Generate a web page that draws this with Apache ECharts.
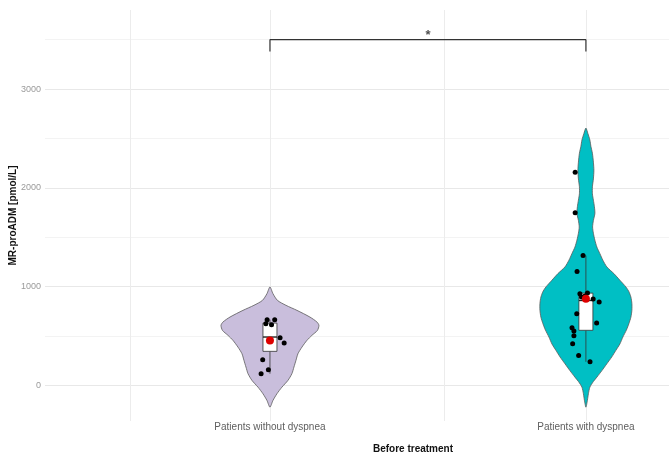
<!DOCTYPE html>
<html>
<head>
<meta charset="utf-8">
<title>MR-proADM before treatment</title>
<script src="https://cdn.jsdelivr.net/npm/echarts@6/dist/echarts.min.js"></script>
<style>
  html, body { margin: 0; padding: 0; background: #fff; }
  #chart { width: 669px; height: 461px; }
</style>
</head>
<body>
<div id="chart"></div>
<script>
// groups on the x axis
const groups = ['Patients without dyspnea', 'Patients with dyspnea'];
const groupX = [1, 2];
const violinColors = ['#c9bedc', '#00bfc4'];

// violin outline: level (pmol/L) and relative density
const levels1 = [-220, -152, -84, -17, 51, 120, 186, 253, 321, 388, 456, 507, 557, 608, 642, 692, 760, 811, 861, 929, 997];
const density1 = [0, 3, 7, 12, 18, 22, 24, 26, 28, 32, 37, 42, 47.5, 49, 47, 40, 27, 16, 7.5, 3, 0];
const levels2 = [-220, -150, -84, -17, 40, 84, 150, 220, 290, 355, 420, 490, 560, 625, 690, 760, 830, 895, 950, 997, 1065, 1132, 1199, 1267, 1334, 1400, 1470, 1540, 1604, 1670, 1740, 1810, 1875, 1940, 2010, 2090, 2179, 2260, 2350, 2420, 2483, 2550, 2605];
const density2 = [0, 1.5, 2.5, 4, 7.5, 11, 16, 21, 26, 30, 34, 37, 40.5, 43, 45, 46, 46, 45, 43, 40, 34, 28, 21, 17, 14, 11, 9, 7.5, 6.7, 7.5, 9, 8.5, 7.5, 6.5, 6.5, 7.5, 8, 7.5, 6.5, 5, 4, 2, 0];

// boxplot: lower whisker, Q1, median, Q3, upper whisker
const box1 = [119, 345, 490, 631, 666];
const box2 = [239, 558, 860, 934, 1314];

// individual patients and their horizontal jitter
const values1 = [666, 666, 625, 615, 483, 429, 260, 159, 119];
const jitter1 = [-0.009, 0.015, -0.013, 0.005, 0.032, 0.045, -0.023, -0.005, -0.028];
const values2 = [2159, 1747, 1314, 1152, 929, 936, 895, 875, 844, 726, 631, 584, 550, 503, 422, 304, 239, 905];
const jitter2 = [-0.034, -0.034, -0.009, -0.028, -0.019, 0.005, -0.014, 0.023, 0.042, -0.029, 0.034, -0.044, -0.038, -0.038, -0.042, -0.023, 0.013, -0.003];

// group means (red dots)
const means = [456, 878];

// significance bracket
const bracketX = [1, 1, 2, 2];
const bracketY = [3380, 3500, 3500, 3380];
const sigLabel = '*';

// axis ticks and grid
const yTicks = [0, 1000, 2000, 3000];
const yGrid = [0, 500, 1000, 1500, 2000, 2500, 3000, 3500];
const xGrid = [0.557, 1, 1.551, 2];

const chart = echarts.init(document.getElementById('chart'));

const profiles = [
  { levels: levels1, density: density1 },
  { levels: levels2, density: density2 }
];
const maxDensity = Math.max(...density1, ...density2);
const violinHalf = 0.155; // x units at the widest point

function renderViolin(params, api) {
  const i = params.dataIndex;
  const x0 = api.value(0);
  const p = profiles[i];
  const left = [];
  const right = [];
  p.levels.forEach(function (lv, k) {
    const w = p.density[k] / maxDensity * violinHalf;
    left.push(api.coord([x0 - w, lv]));
    if (k > 0 && k < p.levels.length - 1) {
      right.push(api.coord([x0 + w, lv]));
    }
  });
  const pts = left.concat(right.reverse());
  return {
    type: 'polygon',
    shape: { points: pts, smooth: 0.25 },
    style: { fill: violinColors[i], stroke: '#5a5a5a', lineWidth: 0.8 }
  };
}

function renderBox(params, api) {
  const x0 = api.value(0);
  const lo = api.coord([x0, api.value(1)]);
  const q1 = api.coord([x0, api.value(2)]);
  const md = api.coord([x0, api.value(3)]);
  const q3 = api.coord([x0, api.value(4)]);
  const hi = api.coord([x0, api.value(5)]);
  const hw = 7;
  const edge = { stroke: '#333', lineWidth: 0.8 };
  return {
    type: 'group',
    children: [
      { type: 'line', shape: { x1: lo[0], y1: lo[1], x2: q1[0], y2: q1[1] }, style: edge },
      { type: 'line', shape: { x1: q3[0], y1: q3[1], x2: hi[0], y2: hi[1] }, style: edge },
      { type: 'rect', shape: { x: q3[0] - hw, y: q3[1], width: hw * 2, height: q1[1] - q3[1] },
        style: { fill: '#fff', stroke: '#333', lineWidth: 0.8 } },
      { type: 'line', shape: { x1: md[0] - hw, y1: md[1], x2: md[0] + hw, y2: md[1] },
        style: { stroke: '#222', lineWidth: 1.4 } }
    ]
  };
}

const points = [];
values1.forEach(function (v, k) { points.push([groupX[0] + jitter1[k], v]); });
values2.forEach(function (v, k) { points.push([groupX[1] + jitter2[k], v]); });

const font = 'Liberation Sans';

chart.setOption({
  animation: false,
  textStyle: { fontFamily: font },
  grid: { left: 45, right: 0, top: 10, bottom: 40, containLabel: false, outerBoundsMode: 'none' },
  xAxis: {
    type: 'value',
    min: 0.288,
    max: 2.263,
    axisLine: { show: false },
    axisTick: { show: false, customValues: xGrid },
    axisLabel: {
      customValues: groupX,
      formatter: function (v) { return groups[groupX.indexOf(v)] || ''; },
      color: '#5e5e5e',
      fontSize: 10,
      margin: 1
    },
    splitLine: { show: true, lineStyle: { color: '#ececec', width: 1 } }
  },
  yAxis: {
    type: 'value',
    min: -360,
    max: 3800,
    name: 'MR-proADM [pmol/L]',
    nameLocation: 'middle',
    nameGap: 27,
    nameMoveOverlap: false,
    nameTextStyle: { fontWeight: 'bold', fontSize: 10, color: '#111' },
    axisLine: { show: false },
    axisTick: { show: false, customValues: yGrid },
    axisLabel: {
      customValues: yTicks,
      formatter: function (v) { return String(v); },
      color: '#9a9a9a',
      fontSize: 9,
      margin: 4
    },
    splitLine: { show: true, lineStyle: { color: ['#e8e8e8', '#f3f3f3'], width: 1 } }
  },
  graphic: [{
    type: 'text',
    x: 413,
    y: 449,
    style: {
      text: 'Before treatment',
      textAlign: 'center',
      textVerticalAlign: 'middle',
      font: 'bold 10px "Liberation Sans"',
      fill: '#111'
    }
  }],
  series: [
    {
      type: 'custom',
      renderItem: renderViolin,
      data: groupX.map(function (x) { return [x]; }),
      encode: { x: 0 },
      z: 1
    },
    {
      type: 'custom',
      renderItem: renderBox,
      data: [[groupX[0]].concat(box1), [groupX[1]].concat(box2)],
      encode: { x: 0, y: [1, 2, 3, 4, 5] },
      z: 2
    },
    {
      type: 'scatter',
      data: points,
      symbolSize: 5,
      itemStyle: { color: '#000', opacity: 1 },
      z: 3
    },
    {
      type: 'scatter',
      data: groupX.map(function (x, i) { return [x, means[i]]; }),
      symbolSize: 8,
      itemStyle: { color: '#dd0000', opacity: 1 },
      z: 4
    },
    {
      type: 'line',
      data: bracketX.map(function (x, i) { return [x, bracketY[i]]; }),
      symbol: 'none',
      lineStyle: { color: '#333', width: 1.2 },
      z: 5
    },
    {
      type: 'scatter',
      data: [[(groupX[0] + groupX[1]) / 2, bracketY[1]]],
      symbolSize: 0,
      label: {
        show: true,
        position: 'top',
        distance: -2,
        formatter: sigLabel,
        fontSize: 13,
        fontWeight: 'bold',
        color: '#222'
      },
      z: 5
    }
  ]
});
</script>
</body>
</html>
